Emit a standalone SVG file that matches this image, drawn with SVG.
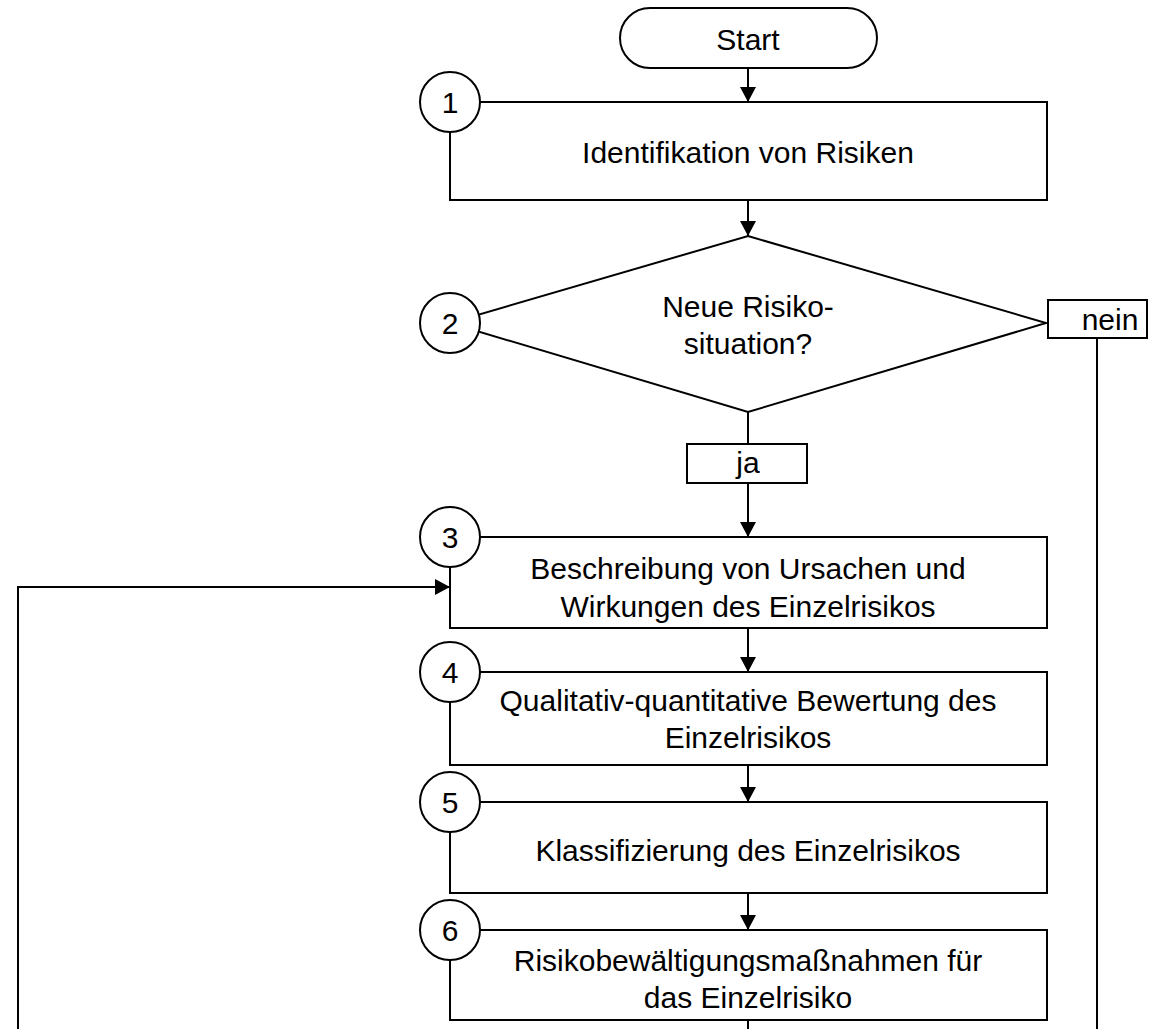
<svg xmlns="http://www.w3.org/2000/svg" width="1149" height="1029" viewBox="0 0 1149 1029">
<style>
.s{fill:#fff;stroke:#000;stroke-width:2}
.c{fill:none;stroke:#000;stroke-width:2}
text{font-family:"Liberation Sans",Arial,sans-serif;font-size:30px;fill:#000;text-anchor:middle}
</style>
<defs>
<marker id="ah" markerWidth="15" markerHeight="16" refX="15" refY="8" orient="auto" markerUnits="userSpaceOnUse">
<path d="M0,0 L15,8 L0,16 Z" fill="#000"/>
</marker>
</defs>
<rect width="1149" height="1029" fill="#fff"/>
<g id="connectors">
<line class="c" x1="748" y1="68" x2="748" y2="102" marker-end="url(#ah)"/>
<line class="c" x1="748" y1="200" x2="748" y2="236" marker-end="url(#ah)"/>
<line class="c" x1="748" y1="412" x2="748" y2="444"/>
<line class="c" x1="748" y1="483" x2="748" y2="537" marker-end="url(#ah)"/>
<line class="c" x1="1097" y1="338" x2="1097" y2="1029"/>
<polyline class="c" points="18,1029 18,587 450,587" marker-end="url(#ah)"/>
<line class="c" x1="748" y1="628" x2="748" y2="672" marker-end="url(#ah)"/>
<line class="c" x1="748" y1="765" x2="748" y2="802" marker-end="url(#ah)"/>
<line class="c" x1="748" y1="893" x2="748" y2="930" marker-end="url(#ah)"/>
<line class="c" x1="748" y1="1020" x2="748" y2="1029"/>
</g>
<g id="start">
<rect class="s" x="620" y="8" width="257" height="60" rx="30" ry="30"/>
<text x="748" y="50">Start</text>
</g>
<g id="step1">
<rect class="s" x="450" y="102" width="597" height="98"/>
<text x="748" y="163">Identifikation von Risiken</text>
<circle class="s" cx="450" cy="102" r="30"/>
<text x="450" y="113">1</text>
</g>
<g id="step2">
<polygon class="s" points="748,236 1046,323 748,412 450,323"/>
<text x="748" y="317">Neue Risiko-</text>
<text x="748" y="354">situation?</text>
<circle class="s" cx="450" cy="323" r="30"/>
<text x="450" y="334">2</text>
</g>
<g id="label-nein">
<rect class="s" x="1048" y="300" width="99" height="38"/>
<text x="1110" y="330">nein</text>
</g>
<g id="label-ja">
<rect class="s" x="687" y="444" width="120" height="39"/>
<text x="748" y="473">ja</text>
</g>
<g id="step3">
<rect class="s" x="450" y="537" width="597" height="91"/>
<text x="748" y="579">Beschreibung von Ursachen und</text>
<text x="748" y="617">Wirkungen des Einzelrisikos</text>
<circle class="s" cx="450" cy="537" r="30"/>
<text x="450" y="548">3</text>
</g>
<g id="step4">
<rect class="s" x="450" y="672" width="597" height="93"/>
<text x="748" y="711">Qualitativ-quantitative Bewertung des</text>
<text x="748" y="748">Einzelrisikos</text>
<circle class="s" cx="450" cy="672" r="30"/>
<text x="450" y="683">4</text>
</g>
<g id="step5">
<rect class="s" x="450" y="802" width="597" height="91"/>
<text x="748" y="861">Klassifizierung des Einzelrisikos</text>
<circle class="s" cx="450" cy="802" r="30"/>
<text x="450" y="813">5</text>
</g>
<g id="step6">
<rect class="s" x="450" y="930" width="597" height="90"/>
<text x="748" y="971">Risikobewältigungsmaßnahmen für</text>
<text x="748" y="1008">das Einzelrisiko</text>
<circle class="s" cx="450" cy="930" r="30"/>
<text x="450" y="941">6</text>
</g>
</svg>
